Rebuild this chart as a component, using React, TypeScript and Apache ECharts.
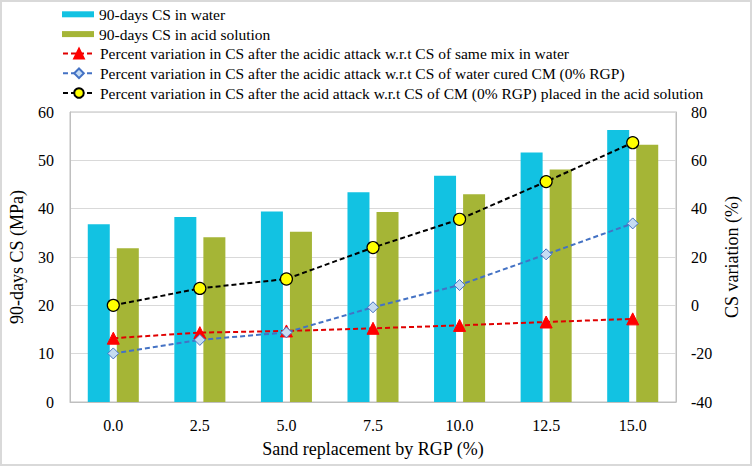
import React, { useEffect, useRef } from "react";
import * as echarts from "echarts";

const categories = ["0.0", "2.5", "5.0", "7.5", "10.0", "12.5", "15.0"];
const csWater = [36.8, 38.3, 39.4, 43.4, 46.8, 51.6, 56.3];
const csAcid = [31.8, 34.1, 35.2, 39.3, 43.0, 48.1, 53.2];
const varSameMix = [-13.6, -11.3, -10.6, -9.5, -8.3, -6.9, -5.6];
const varWaterCM = [-19.9, -14.3, -11.2, -0.8, 8.4, 21.1, 33.9];
const varAcidCM = [0, 7.0, 10.9, 23.9, 35.6, 51.2, 67.3];

const leftTicks = { min: 0, max: 60, interval: 10 };
const rightTicks = { min: -40, max: 80, interval: 20 };

const names = {
  water: "90-days CS in water",
  acid: "90-days CS in acid solution",
  same: "Percent variation in CS after the acidic attack w.r.t CS of same mix in water",
  waterCM: "Percent variation in CS after the acidic attack w.r.t CS of water cured CM (0% RGP)",
  acidCM: "Percent variation in CS after the acid attack w.r.t CS of CM (0% RGP) placed in the acid solution",
};

const FONT = '"Liberation Serif", "Times New Roman", serif';

export default function App() {
  const ref = useRef<HTMLDivElement>(null);
  useEffect(() => {
    if (!ref.current) return;
    const chart = echarts.init(ref.current, undefined, { renderer: "svg" });
    const dash = [5, 3];
    chart.setOption({
      animation: false,
      textStyle: { fontFamily: FONT, color: "#000" },
      graphic: [
        {
          type: "rect",
          silent: true,
          z: -10,
          shape: { x: 1, y: 1, width: 750, height: 464 },
          style: { fill: "none", stroke: "#D9D9D9", lineWidth: 2 },
        },
      ],
      legend: [
        {
          data: [names.water, names.acid],
          orient: "vertical",
          left: 62,
          top: 6.3,
          padding: 0,
          itemWidth: 32,
          itemHeight: 6,
          itemGap: 3.8,
          icon: "rect",
          textStyle: { fontSize: 15.5, fontFamily: FONT, color: "#000" },
        },
        {
          data: [names.same, names.waterCM, names.acidCM],
          orient: "vertical",
          left: 62,
          top: 45.6,
          padding: 0,
          itemWidth: 32,
          itemHeight: 12,
          itemGap: 3.7,
          textStyle: { fontSize: 15.5, fontFamily: FONT, color: "#000" },
        },
      ],
      grid: {
        left: 69,
        right: 76,
        top: 112,
        bottom: 64,
        show: true,
        borderColor: "#BFBFBF",
        borderWidth: 1,
      },
      xAxis: {
        type: "category",
        data: categories,
        name: "Sand replacement by RGP (%)",
        nameLocation: "middle",
        nameGap: 38,
        nameTextStyle: { fontSize: 18, fontFamily: FONT, color: "#000" },
        axisLine: { lineStyle: { color: "#BFBFBF" } },
        axisTick: { show: false },
        axisLabel: { fontSize: 16, fontFamily: FONT, color: "#000", margin: 15 },
      },
      yAxis: [
        {
          type: "value",
          ...leftTicks,
          name: "90-days CS (MPa)",
          nameLocation: "middle",
          nameGap: 44,
          nameTextStyle: { fontSize: 18, fontFamily: FONT, color: "#000" },
          axisLine: { show: true, lineStyle: { color: "#BFBFBF" } },
          axisTick: { show: false },
          axisLabel: { fontSize: 16, fontFamily: FONT, color: "#000", margin: 16 },
          splitLine: { lineStyle: { color: "#D9D9D9", width: 1 } },
        },
        {
          type: "value",
          ...rightTicks,
          name: "CS variation (%)",
          nameLocation: "middle",
          nameGap: 45,
          nameTextStyle: { fontSize: 18, fontFamily: FONT, color: "#000" },
          axisLine: { show: true, lineStyle: { color: "#BFBFBF" } },
          axisTick: { show: false },
          axisLabel: { fontSize: 16, fontFamily: FONT, color: "#000", margin: 15 },
          splitLine: { show: false },
        },
      ],
      series: [
        {
          name: names.water,
          type: "bar",
          data: csWater,
          barWidth: 22,
          barGap: "32%",
          itemStyle: { color: "#12C2E2" },
        },
        {
          name: names.acid,
          type: "bar",
          data: csAcid,
          barWidth: 22,
          barGap: "32%",
          itemStyle: { color: "#A5B536" },
        },
        {
          name: names.same,
          type: "line",
          yAxisIndex: 1,
          data: varSameMix,
          symbol: "triangle",
          symbolSize: 12,
          z: 3,
          lineStyle: { color: "#E00000", width: 2, type: dash },
          itemStyle: { color: "#FF0000", borderColor: "#FF0000", borderWidth: 1 },
        },
        {
          name: names.waterCM,
          type: "line",
          yAxisIndex: 1,
          data: varWaterCM,
          symbol: "diamond",
          symbolSize: 11,
          z: 4,
          lineStyle: { color: "#4472C4", width: 2, type: dash },
          itemStyle: { color: "#C6DCF3", borderColor: "#4472C4", borderWidth: 1 },
        },
        {
          name: names.acidCM,
          type: "line",
          yAxisIndex: 1,
          data: varAcidCM,
          symbol: "circle",
          symbolSize: 12,
          z: 5,
          lineStyle: { color: "#000000", width: 2, type: dash },
          itemStyle: { color: "#FFFF00", borderColor: "#000000", borderWidth: 1.2 },
        },
      ],
    });
    return () => chart.dispose();
  }, []);
  return (
    <div
      ref={ref}
      style={{ position: "absolute", left: 0, top: 0, width: 752, height: 466, background: "#fff" }}
    />
  );
}
